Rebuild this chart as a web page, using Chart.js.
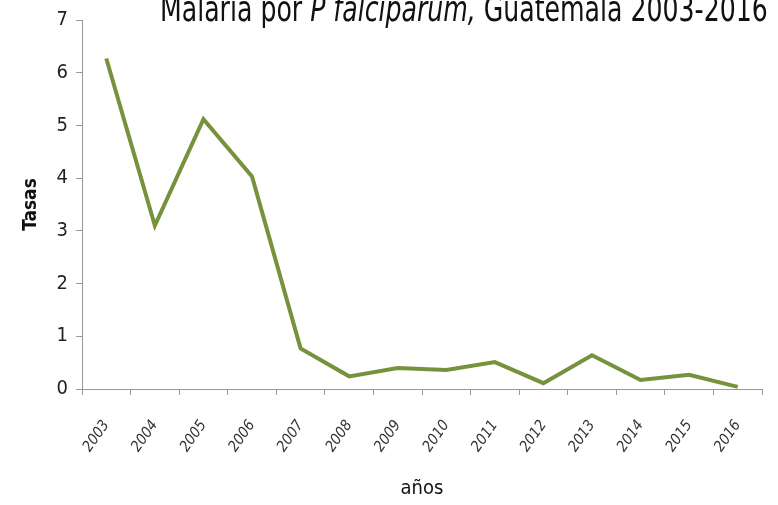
<!DOCTYPE html>
<html>
<head>
<meta charset="utf-8">
<script src="https://cdn.jsdelivr.net/npm/chart.js@4"></script>
<style>
  html, body { margin: 0; padding: 0; background: #fff; }
  #chart { display: block; }
</style>
</head>
<body>
<canvas id="chart" width="778" height="505"></canvas>
<script>
// Values
const years = ["2003", "2004", "2005", "2006", "2007", "2008", "2009",
  "2010", "2011", "2012", "2013", "2014", "2015", "2016"];
const rates = [6.27, 3.1, 5.12, 4.03, 0.77, 0.24, 0.4, 0.36, 0.51, 0.11, 0.64, 0.17, 0.27, 0.04];
const titleParts = [
  { text: "Malaria por ", italic: false },
  { text: "P falciparum,", italic: true },
  { text: " Guatemala 2003-2016", italic: false },
];

const FONT = "'Liberation Sans Narrow', 'DejaVu Sans Condensed', 'Liberation Sans', sans-serif";
Chart.defaults.font.family = FONT;
Chart.defaults.color = "#222";

// title with an italic part, partly cut off at the top as in the original
const titlePlugin = {
  id: "mixedTitle",
  afterDraw(chart) {
    const ctx = chart.ctx;
    ctx.save();
    ctx.fillStyle = "#111";
    ctx.textBaseline = "alphabetic";
    ctx.translate(160, 21);
    ctx.scale(1, 1.25);
    let x = 0;
    titleParts.forEach((p) => {
      ctx.font = (p.italic ? "italic " : "") + "28px " + FONT;
      ctx.fillText(p.text, x, 0);
      x += ctx.measureText(p.text).width;
    });
    ctx.restore();
  },
};

new Chart(document.getElementById("chart"), {
  type: "line",
  data: {
    labels: years,
    datasets: [
      {
        data: rates,
        borderColor: "#76923C",
        borderWidth: 4,
        pointRadius: 0,
        tension: 0,
        fill: false,
      },
    ],
  },
  options: {
    responsive: false,
    animation: false,
    layout: { padding: { top: 16, right: 16, left: 0, bottom: 0 } },
    plugins: {
      legend: { display: false },
      tooltip: { enabled: false },
    },
    scales: {
      x: {
        offset: true,
        grid: {
          offset: true,
          drawOnChartArea: false,
          drawTicks: true,
          tickLength: 6,
          color: "#999",
        },
        border: { color: "#999", width: 1 },
        ticks: {
          minRotation: 55,
          maxRotation: 55,
          padding: 22,
          font: { size: 15, style: "italic" },
          color: "#333",
        },
        title: {
          display: true,
          text: "años",
          font: { size: 20 },
          color: "#111",
          padding: { top: 12 },
        },
        afterFit(scale) {
          scale.height = 116;
        },
      },
      y: {
        min: 0,
        max: 7,
        grid: {
          drawOnChartArea: false,
          drawTicks: true,
          tickLength: 6,
          color: "#999",
        },
        border: { color: "#999", width: 1 },
        ticks: {
          stepSize: 1,
          padding: 8,
          font: { size: 20 },
          color: "#222",
        },
        title: {
          display: true,
          text: "Tasas",
          font: { size: 19, weight: "bold" },
          color: "#111",
          padding: { top: 20, bottom: 4 },
        },
        afterFit(scale) {
          scale.width = 82;
        },
      },
    },
  },
  plugins: [titlePlugin],
});
</script>
</body>
</html>
